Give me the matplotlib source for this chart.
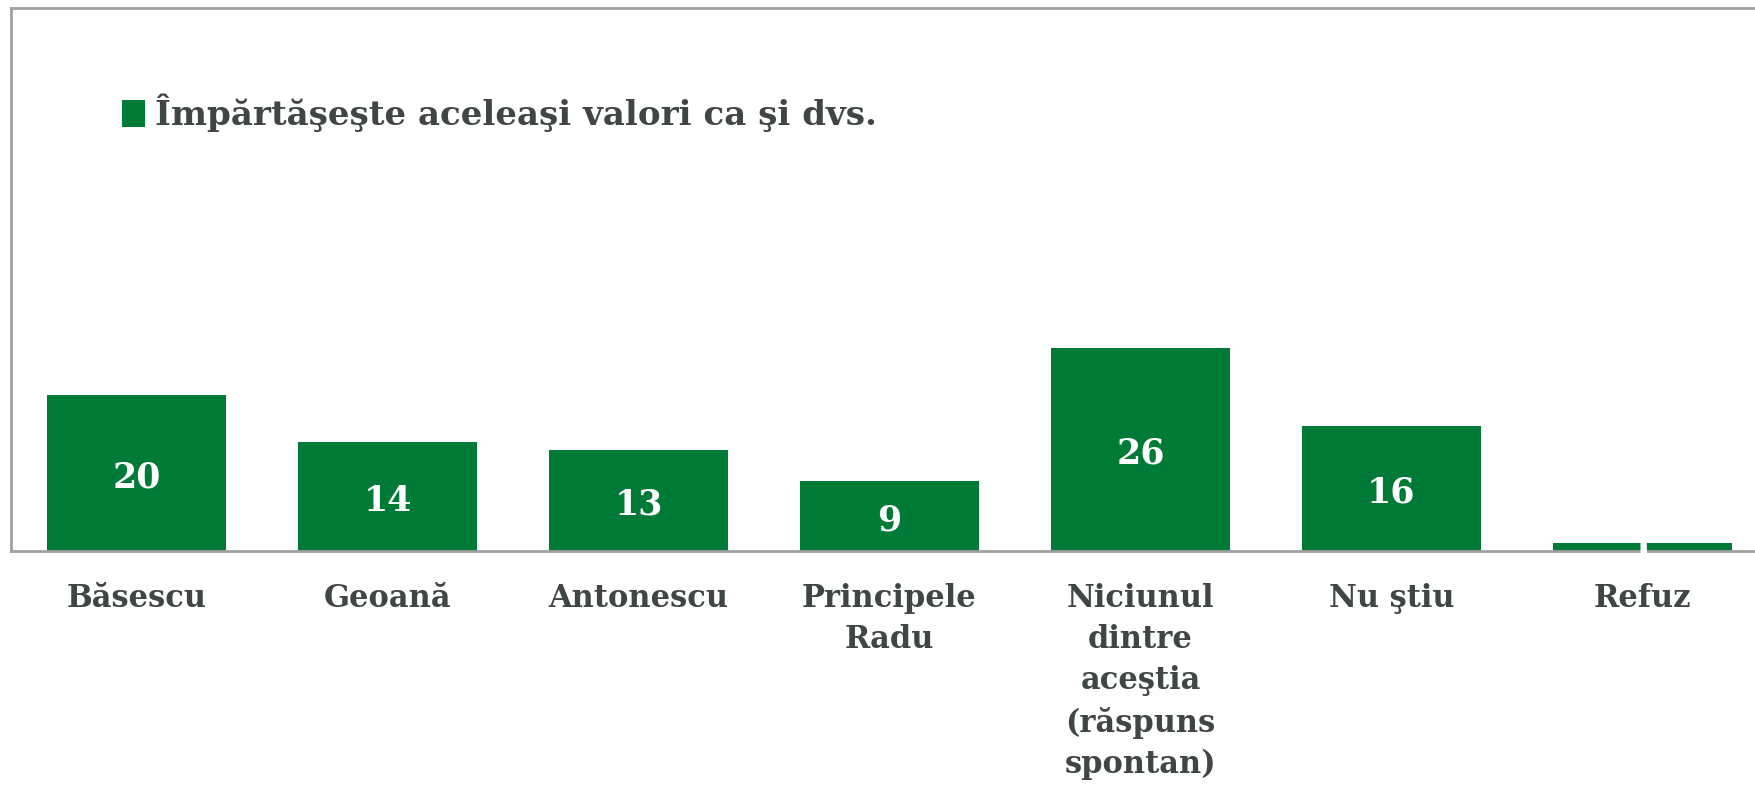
import matplotlib
matplotlib.use("Agg")
import matplotlib.pyplot as plt
from matplotlib.patches import Patch

categories = ["Băsescu", "Geoană", "Antonescu", "Principele\nRadu",
              "Niciunul\ndintre\naceştia\n(răspuns\nspontan)", "Nu ştiu", "Refuz"]
values = [20, 14, 13, 9, 26, 16, 1]
series_name = "Împărtăşeşte aceleaşi valori ca şi dvs."

GREEN = "#007A37"
TEXT = "#404545"
GRAY = "#A0A0A0"

W, H = 1755, 785
fig = plt.figure(figsize=(W / 100, H / 100), dpi=100)
left, right = 11 / W, 1768 / W
bottom, top = (H - 551) / H, (H - 8) / H
ax = fig.add_axes([left, bottom, right - left, top - bottom])

x = list(range(len(categories)))
bars = ax.bar(x, values, width=0.717, color=GREEN, zorder=2)
ax.set_xlim(-0.5, len(categories) - 0.5)
ax.set_ylim(0, 69.6)

font = dict(family="DejaVu Serif", weight="bold")
for xi, v in zip(x, values):
    ax.annotate(str(v), (xi, v / 2), xytext=(0, -3), textcoords="offset points",
                ha="center", va="center", color="white",
                fontsize=25, zorder=3, **font)

ax.set_xticks(x)
ax.set_xticklabels(categories, fontsize=22, color=TEXT, linespacing=1.42, **font)
ax.tick_params(axis="x", length=0, pad=23)
ax.set_yticks([])

for s in ["top", "left", "bottom"]:
    ax.spines[s].set_color(GRAY)
    ax.spines[s].set_linewidth(2)
ax.spines["right"].set_visible(False)

handle = Patch(facecolor=GREEN, edgecolor="none")
leg = fig.legend([handle], [series_name], loc="center left",
                 bbox_to_anchor=(122 / W, (H - 113) / H), frameon=False,
                 borderpad=0, borderaxespad=0,
                 handlelength=0.66, handleheight=0.85, handletextpad=0.32,
                 prop=dict(family="DejaVu Serif", weight="bold", size=24.6))
for t in leg.get_texts():
    t.set_color(TEXT)

fig.savefig("out.png", dpi=100)
